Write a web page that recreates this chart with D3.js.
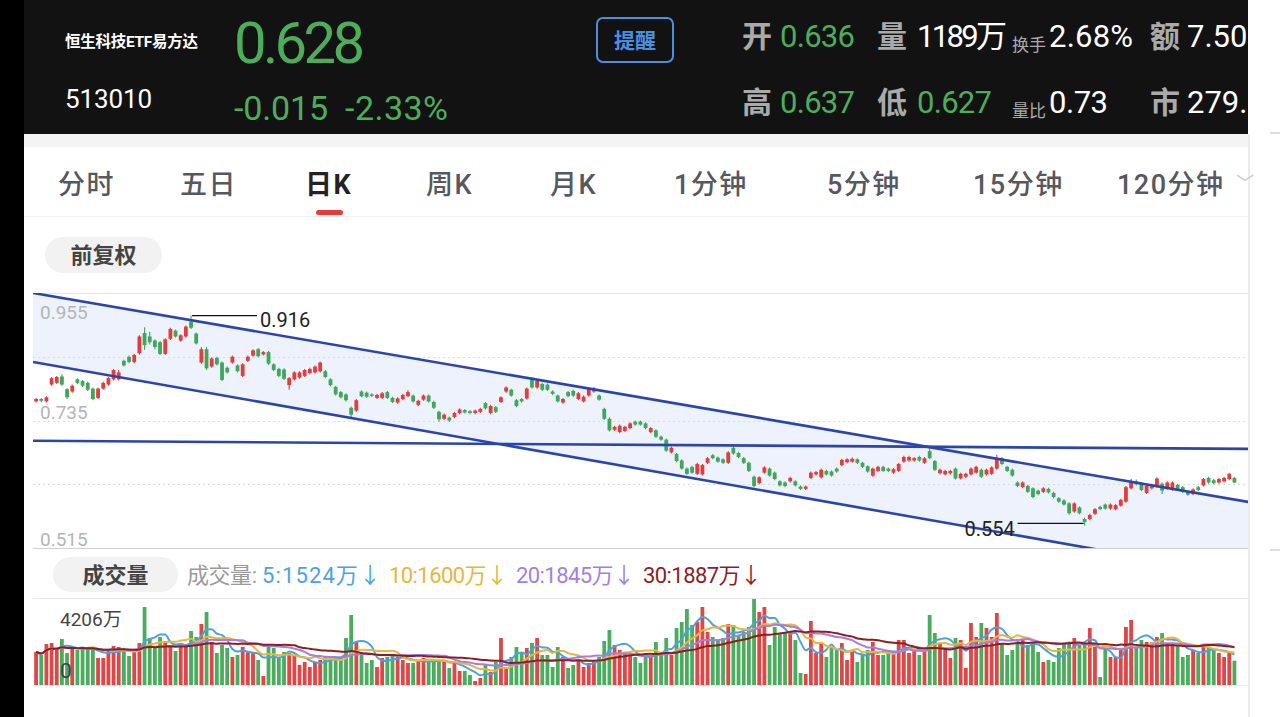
<!DOCTYPE html>
<html>
<head>
<meta charset="utf-8">
<script src="https://cdn.jsdelivr.net/npm/d3@7"></script>
<style>
  body { margin: 0; background: #fff; overflow: hidden; }
  svg { display: block; font-family: Roboto, "Noto Sans CJK SC", sans-serif; }
</style>
</head>
<body>
<div id="chart"></div>
<script>
// 恒生科技ETF易方达 daily K-line

const opens = [0.768,0.772,0.768,0.797,0.800,0.811,0.789,0.785,0.806,0.803,0.800,0.790,0.774,0.790,0.797,0.806,0.806,0.838,0.845,0.836,
  0.851,0.886,0.880,0.873,0.870,0.850,0.876,0.890,0.873,0.880,0.906,0.885,0.835,0.858,0.828,0.843,0.835,0.826,0.835,0.830,
  0.812,0.838,0.847,0.858,0.849,0.853,0.832,0.824,0.823,0.796,0.806,0.809,0.812,0.817,0.818,0.820,0.820,0.806,0.793,0.784,
  0.780,0.757,0.752,0.785,0.783,0.780,0.774,0.774,0.784,0.774,0.766,0.772,0.777,0.778,0.762,0.771,0.778,0.767,0.750,0.738,
  0.740,0.741,0.748,0.753,0.751,0.748,0.750,0.765,0.748,0.758,0.767,0.785,0.788,0.770,0.772,0.773,0.805,0.792,0.798,0.797,
  0.785,0.778,0.766,0.784,0.786,0.772,0.768,0.778,0.785,0.778,0.755,0.738,0.719,0.715,0.717,0.722,0.733,0.733,0.730,0.715,
  0.718,0.707,0.702,0.680,0.677,0.666,0.652,0.655,0.643,0.642,0.662,0.675,0.671,0.668,0.662,0.688,0.679,0.670,0.662,0.638,
  0.627,0.645,0.652,0.645,0.630,0.628,0.630,0.630,0.621,0.617,0.636,0.642,0.637,0.648,0.647,0.652,0.658,0.663,0.664,0.668,
  0.662,0.656,0.640,0.648,0.655,0.652,0.645,0.648,0.664,0.666,0.666,0.672,0.662,0.682,0.665,0.644,0.642,0.644,0.652,0.635,
  0.638,0.642,0.645,0.650,0.642,0.643,0.652,0.670,0.655,0.650,0.628,0.620,0.622,0.618,0.614,0.612,0.617,0.610,0.601,0.597,
  0.592,0.578,0.585,0.565,0.565,0.574,0.586,0.590,0.583,0.582,0.588,0.595,0.618,0.630,0.627,0.610,0.618,0.622,0.626,0.618,
  0.616,0.624,0.620,0.612,0.608,0.620,0.623,0.636,0.632,0.628,0.630,0.634,0.636];

const closes = [0.772,0.769,0.775,0.808,0.810,0.797,0.775,0.795,0.800,0.795,0.788,0.772,0.790,0.800,0.808,0.822,0.818,0.830,0.836,0.848,
  0.880,0.865,0.870,0.862,0.850,0.875,0.893,0.880,0.882,0.897,0.895,0.868,0.858,0.825,0.842,0.832,0.805,0.818,0.845,0.820,
  0.832,0.845,0.856,0.846,0.853,0.833,0.822,0.812,0.807,0.808,0.818,0.818,0.822,0.824,0.828,0.835,0.810,0.796,0.780,0.775,
  0.770,0.745,0.770,0.777,0.776,0.778,0.779,0.782,0.774,0.767,0.773,0.779,0.784,0.768,0.769,0.778,0.768,0.757,0.737,0.745,
  0.735,0.748,0.754,0.749,0.748,0.752,0.755,0.756,0.760,0.750,0.775,0.792,0.778,0.760,0.768,0.790,0.792,0.803,0.788,0.788,
  0.781,0.768,0.772,0.777,0.778,0.782,0.776,0.790,0.790,0.771,0.738,0.718,0.724,0.726,0.724,0.730,0.728,0.728,0.722,0.722,
  0.707,0.702,0.683,0.688,0.665,0.652,0.643,0.645,0.660,0.658,0.670,0.670,0.664,0.662,0.680,0.678,0.672,0.662,0.648,0.622,
  0.637,0.654,0.640,0.634,0.623,0.622,0.636,0.623,0.617,0.621,0.645,0.646,0.650,0.642,0.640,0.647,0.667,0.668,0.669,0.662,
  0.655,0.647,0.652,0.655,0.648,0.648,0.651,0.660,0.672,0.672,0.670,0.666,0.670,0.670,0.650,0.650,0.648,0.648,0.635,0.643,
  0.643,0.652,0.655,0.638,0.650,0.654,0.668,0.660,0.648,0.640,0.622,0.628,0.612,0.603,0.608,0.618,0.611,0.603,0.595,0.590,
  0.575,0.592,0.575,0.560,0.572,0.582,0.582,0.583,0.590,0.589,0.598,0.620,0.630,0.625,0.615,0.622,0.624,0.635,0.614,0.628,
  0.628,0.617,0.612,0.607,0.616,0.615,0.634,0.628,0.627,0.634,0.636,0.643,0.628];

const highs = [0.774,0.774,0.777,0.810,0.812,0.815,0.791,0.797,0.808,0.805,0.802,0.792,0.792,0.802,0.810,0.824,0.822,0.840,0.847,0.850,
  0.882,0.896,0.888,0.875,0.872,0.877,0.895,0.892,0.884,0.899,0.916,0.887,0.862,0.862,0.844,0.845,0.837,0.828,0.847,0.832,
  0.834,0.847,0.858,0.860,0.855,0.855,0.834,0.826,0.825,0.810,0.820,0.820,0.824,0.826,0.830,0.837,0.822,0.808,0.795,0.786,
  0.782,0.759,0.772,0.787,0.785,0.782,0.781,0.784,0.786,0.776,0.775,0.781,0.787,0.780,0.771,0.780,0.780,0.769,0.752,0.747,
  0.742,0.750,0.756,0.755,0.753,0.754,0.757,0.767,0.762,0.760,0.777,0.794,0.790,0.772,0.774,0.792,0.810,0.805,0.800,0.799,
  0.787,0.780,0.774,0.786,0.788,0.784,0.778,0.792,0.793,0.780,0.757,0.740,0.726,0.728,0.726,0.732,0.735,0.735,0.732,0.724,
  0.720,0.709,0.704,0.690,0.679,0.668,0.654,0.657,0.662,0.660,0.672,0.677,0.673,0.670,0.682,0.693,0.681,0.672,0.664,0.640,
  0.639,0.656,0.654,0.647,0.632,0.630,0.638,0.632,0.623,0.623,0.647,0.648,0.652,0.650,0.649,0.654,0.669,0.670,0.671,0.670,
  0.664,0.658,0.654,0.657,0.657,0.654,0.653,0.662,0.674,0.674,0.672,0.674,0.672,0.692,0.667,0.652,0.650,0.650,0.654,0.645,
  0.645,0.654,0.657,0.652,0.652,0.656,0.676,0.672,0.657,0.652,0.630,0.630,0.624,0.620,0.616,0.620,0.619,0.612,0.603,0.599,
  0.594,0.594,0.587,0.567,0.574,0.584,0.588,0.592,0.592,0.591,0.600,0.622,0.634,0.633,0.629,0.624,0.626,0.637,0.628,0.630,
  0.630,0.626,0.622,0.614,0.618,0.622,0.636,0.638,0.634,0.636,0.638,0.645,0.637];

const lows = [0.766,0.767,0.766,0.795,0.798,0.795,0.772,0.783,0.798,0.793,0.786,0.770,0.772,0.788,0.795,0.804,0.804,0.828,0.834,0.834,
  0.849,0.857,0.866,0.858,0.848,0.848,0.874,0.878,0.871,0.878,0.893,0.866,0.833,0.822,0.826,0.830,0.803,0.816,0.833,0.818,
  0.810,0.836,0.845,0.844,0.847,0.831,0.820,0.810,0.805,0.788,0.804,0.807,0.810,0.815,0.816,0.818,0.808,0.794,0.778,0.773,
  0.768,0.740,0.750,0.775,0.774,0.776,0.772,0.772,0.772,0.765,0.764,0.770,0.775,0.766,0.760,0.769,0.766,0.755,0.733,0.736,
  0.733,0.739,0.746,0.747,0.746,0.746,0.748,0.754,0.746,0.748,0.765,0.783,0.776,0.758,0.766,0.771,0.790,0.790,0.786,0.786,
  0.779,0.766,0.764,0.775,0.776,0.770,0.766,0.776,0.783,0.769,0.736,0.716,0.717,0.713,0.715,0.720,0.726,0.726,0.720,0.713,
  0.705,0.700,0.681,0.678,0.663,0.650,0.641,0.643,0.641,0.640,0.660,0.668,0.662,0.660,0.660,0.676,0.670,0.660,0.646,0.620,
  0.625,0.643,0.638,0.632,0.621,0.620,0.628,0.621,0.615,0.615,0.634,0.640,0.635,0.640,0.638,0.645,0.656,0.661,0.662,0.660,
  0.653,0.645,0.638,0.646,0.646,0.646,0.643,0.646,0.662,0.664,0.664,0.664,0.660,0.668,0.648,0.642,0.640,0.642,0.633,0.633,
  0.636,0.640,0.643,0.636,0.640,0.641,0.650,0.658,0.646,0.638,0.620,0.618,0.610,0.601,0.606,0.610,0.609,0.601,0.593,0.588,
  0.573,0.576,0.573,0.554,0.563,0.572,0.580,0.581,0.581,0.580,0.586,0.593,0.616,0.623,0.613,0.608,0.616,0.620,0.608,0.616,
  0.614,0.615,0.610,0.605,0.606,0.613,0.621,0.626,0.625,0.626,0.628,0.632,0.627];

// 成交量, 万
const volumes = [1614,1467,2005,2054,1711,2250,1565,1809,1711,1858,1711,1809,1320,1320,1711,1907,1858,1711,1418,1663,
  2054,3814,2298,1809,2347,2103,1956,1663,2005,2005,2640,2347,2983,3570,2103,1565,1956,1809,1369,1467,
  1858,1614,1565,1222,440,1858,1809,1369,1614,1565,1467,978,1125,880,1125,1222,1369,1369,1369,1369,
  2298,3423,2103,1565,1076,1222,880,1320,1369,1467,1369,1222,1076,1076,1125,1320,1125,1125,1222,1222,
  831,1076,685,685,489,196,342,978,636,1125,2298,880,1369,1858,1565,1809,2054,2298,1467,1467,
  880,1858,1369,831,978,1222,880,1076,1222,1369,2152,2690,1956,1711,1565,1565,1369,1076,1369,1467,
  2103,1467,2298,1467,2787,3081,3716,2934,3081,3814,2592,2347,2200,2298,2983,2934,2445,2592,2836,4206,
  3570,3814,1956,2836,2543,2592,2592,2200,587,538,3130,1565,2054,1369,1809,1711,2054,1222,1614,1125,
  1467,1711,2103,1467,1467,1565,1565,2200,2200,1565,1711,1467,1711,3423,2543,2054,1711,1320,2298,2200,
  831,3032,2347,3032,2787,2347,3521,2054,1467,1711,2054,2200,1956,2103,1614,1125,1222,1125,1809,2054,
  2103,2298,1956,2054,2787,1858,391,1809,1369,1369,1711,2836,3179,1858,2200,2103,2103,2347,2543,2054,
  2054,1956,1369,1467,1711,1565,1907,1809,1711,1565,1369,1614,1189];

const priceLabels = [0.955, 0.735, 0.515];
const gridPrices = [0.845, 0.735, 0.625];
const volumeTop = 4206;

// trend lines drawn on the chart: [dayIndex, price] end points
const upperLine = [[-0.6, 0.955], [235, 0.594]];
const lowerLine = [[-0.6, 0.836], [235, 0.466]];
const flatLine = [[-0.6, 0.700], [235, 0.686]];

const maPeriods = [5, 10, 20, 30];
const maColors = ["#4ba2e2", "#e8b63c", "#a47ee4", "#8e1e1e"];
const maLabels = ["5:1524万↓", "10:1600万↓", "20:1845万↓", "30:1887万↓"];

const tabs = ["分时", "五日", "日K", "周K", "月K", "1分钟", "5分钟", "15分钟", "120分钟"];
const tabX = [58, 180, 305, 426, 550, 674, 827, 973, 1117];

const width = 1280, height = 717;
const red = "#e23c3c", green = "#3fa75a";
const N = closes.length;

const svg = d3.select("#chart")
  .append("svg")
  .attr("width", width)
  .attr("height", height)
  .attr("viewBox", [0, 0, width, height]);

// page frame
svg.append("rect").attr("width", width).attr("height", height).attr("fill", "#fff");
svg.append("rect").attr("x", 0).attr("y", 0).attr("width", 24).attr("height", height).attr("fill", "#000");
svg.append("rect").attr("x", 24).attr("y", 0).attr("width", 1224).attr("height", 134).attr("fill", "#121212");
svg.append("rect").attr("x", 24).attr("y", 134).attr("width", 1224).attr("height", 13).attr("fill", "#f4f4f5");
svg.append("line").attr("x1", 1249).attr("x2", 1249).attr("y1", 134).attr("y2", height).attr("stroke", "#ececec").attr("stroke-width", 2);
[133, 550].forEach(v => svg.append("line").attr("x1", 1270).attr("x2", 1280).attr("y1", v).attr("y2", v).attr("stroke", "#bbb"));

// header
svg.append("clipPath").attr("id", "headclip").append("rect").attr("x", 24).attr("y", 0).attr("width", 1224).attr("height", 134);
const head = svg.append("g").attr("clip-path", "url(#headclip)");

head.append("text").attr("x", 65).attr("y", 47).attr("fill", "#fff")
  .attr("font-size", 15.5).attr("font-weight", 700).attr("textLength", 133).text("恒生科技ETF易方达");
head.append("text").attr("x", 65).attr("y", 108).attr("fill", "#fff")
  .attr("font-size", 26).attr("textLength", 87).text("513010");
head.append("text").attr("x", 234).attr("y", 63).attr("fill", "#4cae5a")
  .attr("font-size", 58).attr("textLength", 131).text("0.628");
head.append("text").attr("x", 234).attr("y", 120).attr("fill", "#4cae5a")
  .attr("font-size", 34).attr("textLength", 94).text("-0.015");
head.append("text").attr("x", 345).attr("y", 120).attr("fill", "#4cae5a")
  .attr("font-size", 34).attr("textLength", 103).text("-2.33%");

head.append("rect").attr("x", 597).attr("y", 18).attr("width", 76).attr("height", 44).attr("rx", 6)
  .attr("fill", "none").attr("stroke", "#4a8fe0").attr("stroke-width", 2);
head.append("text").attr("x", 635).attr("y", 48).attr("text-anchor", "middle").attr("fill", "#4a8fe0")
  .attr("font-size", 21).attr("font-weight", 700).text("提醒");

// [x, baseline, text, colour, size, weight, width]
const quote = [
  [742, 47, "开", "#aaa", 30, 700, 0], [780, 47, "0.636", "#4cae5a", 31, 400, 75],
  [877, 47, "量", "#aaa", 30, 700, 0], [917, 47, "1189万", "#fff", 31, 400, 90],
  [1012, 51, "换手", "#aaa", 17, 400, 0], [1049, 47, "2.68%", "#fff", 31, 400, 84],
  [1150, 47, "额", "#aaa", 30, 700, 0], [1187, 47, "7.50亿", "#fff", 31, 400, 0],
  [742, 113, "高", "#aaa", 30, 700, 0], [780, 113, "0.637", "#4cae5a", 31, 400, 75],
  [877, 113, "低", "#aaa", 30, 700, 0], [917, 113, "0.627", "#4cae5a", 31, 400, 75],
  [1012, 117, "量比", "#aaa", 17, 400, 0], [1049, 113, "0.73", "#fff", 31, 400, 59],
  [1150, 113, "市", "#aaa", 30, 700, 0], [1187, 113, "279.0", "#fff", 31, 400, 0]
];
head.selectAll("text.q")
  .data(quote)
  .join("text")
  .attr("class", "q")
  .attr("x", d => d[0]).attr("y", d => d[1])
  .attr("fill", d => d[3]).attr("font-size", d => d[4]).attr("font-weight", d => d[5])
  .attr("textLength", d => d[6] || null)
  .text(d => d[2]);

// tabs
svg.selectAll("text.tab")
  .data(tabs)
  .join("text")
  .attr("class", "tab")
  .attr("x", (d, i) => tabX[i])
  .attr("y", 194)
  .attr("font-size", 27)
  .attr("letter-spacing", 1.5)
  .attr("font-weight", d => d === "日K" ? 700 : 500)
  .attr("fill", d => d === "日K" ? "#222" : "#55585e")
  .text(d => d);
svg.append("rect").attr("x", 316).attr("y", 210).attr("width", 27).attr("height", 5).attr("rx", 2.5).attr("fill", red);
svg.append("text").attr("x", 1236).attr("y", 190).attr("fill", "#ccc").attr("font-size", 18).text("﹀");
svg.append("line").attr("x1", 24).attr("x2", 1248).attr("y1", 216.5).attr("y2", 216.5).attr("stroke", "#eee");

function pill(x0, y0, w, h, label) {
  svg.append("rect").attr("x", x0).attr("y", y0).attr("width", w).attr("height", h).attr("rx", h / 2).attr("fill", "#f2f2f3");
  svg.append("text").attr("x", x0 + w / 2).attr("y", y0 + h / 2 + 8).attr("text-anchor", "middle")
    .attr("font-size", 22).attr("font-weight", 700).attr("fill", "#444").text(label);
}
pill(45, 237, 117, 36, "前复权");

// price panel
const plotL = 33, plotR = 1248, plotT = 293, plotB = 548;
const x = d3.scaleLinear().domain([-0.5, N - 0.5]).range([33.5, 1237]);
const y = d3.scaleLinear().domain([0.515, 0.955]).range([plotB, plotT]);

svg.append("clipPath").attr("id", "priceclip")
  .append("rect").attr("x", plotL).attr("y", plotT).attr("width", plotR - plotL).attr("height", plotB - plotT);

const price = svg.append("g");
const channel = upperLine.concat(lowerLine.slice().reverse());
price.append("path")
  .attr("clip-path", "url(#priceclip)")
  .attr("d", d3.line().x(d => x(d[0])).y(d => y(d[1]))(channel) + "Z")
  .attr("fill", "#edf2fc");

price.append("line").attr("x1", plotL).attr("x2", plotR).attr("y1", plotT + 0.5).attr("y2", plotT + 0.5).attr("stroke", "#e6e6e6");
price.append("line").attr("x1", plotL).attr("x2", plotR).attr("y1", plotB + 0.5).attr("y2", plotB + 0.5).attr("stroke", "#cfcfcf");
price.selectAll("line.grid")
  .data(gridPrices)
  .join("line")
  .attr("class", "grid")
  .attr("x1", plotL).attr("x2", plotR)
  .attr("y1", d => Math.round(y(d)) + 0.5).attr("y2", d => Math.round(y(d)) + 0.5)
  .attr("stroke", "#dcdcdc").attr("stroke-dasharray", "2,3");

price.selectAll("text.pl")
  .data(priceLabels)
  .join("text")
  .attr("class", "pl")
  .attr("x", 40)
  .attr("y", (d, i) => i === 0 ? y(d) + 26 : y(d) - 2)
  .attr("font-size", 19)
  .attr("fill", "#b5b5b5")
  .text(d => d.toFixed(3));

const days = d3.range(N);
const isUp = i => closes[i] >= opens[i];
const bw = 3.8;

price.selectAll("line.wick")
  .data(days)
  .join("line")
  .attr("class", "wick")
  .attr("x1", i => x(i)).attr("x2", i => x(i))
  .attr("y1", i => y(highs[i])).attr("y2", i => y(lows[i]))
  .attr("stroke", i => isUp(i) ? red : green)
  .attr("stroke-width", 1.1);

price.selectAll("rect.body")
  .data(days)
  .join("rect")
  .attr("class", "body")
  .attr("x", i => x(i) - bw / 2)
  .attr("y", i => y(Math.max(opens[i], closes[i])))
  .attr("width", bw)
  .attr("height", i => Math.max(1.4, Math.abs(y(opens[i]) - y(closes[i]))))
  .attr("fill", i => isUp(i) ? red : green);

const trend = price.append("g").attr("clip-path", "url(#priceclip)");
[upperLine, lowerLine, flatLine].forEach(seg => {
  trend.append("path")
    .attr("d", d3.line().x(d => x(d[0])).y(d => y(d[1]))(seg))
    .attr("fill", "none")
    .attr("stroke", "#2b45ad")
    .attr("stroke-width", 2.6);
});

// max / min markers
const hi = d3.maxIndex(highs), lo = d3.minIndex(lows);
price.append("line").attr("x1", x(hi) + 1).attr("x2", x(hi) + 66)
  .attr("y1", y(highs[hi])).attr("y2", y(highs[hi])).attr("stroke", "#111").attr("stroke-width", 1.2);
price.append("text").attr("x", x(hi) + 69).attr("y", y(highs[hi]) + 11)
  .attr("font-size", 20).attr("fill", "#222").text(highs[hi].toFixed(3));
price.append("line").attr("x1", x(lo) - 1).attr("x2", x(lo) - 67)
  .attr("y1", y(lows[lo]) - 2).attr("y2", y(lows[lo]) - 2).attr("stroke", "#111").attr("stroke-width", 1.2);
price.append("text").attr("x", x(lo) - 70).attr("y", y(lows[lo]) + 11).attr("text-anchor", "end")
  .attr("font-size", 20).attr("fill", "#222").text(lows[lo].toFixed(3));

// volume panel
pill(53, 557, 125, 35, "成交量");
svg.append("text").attr("x", 187).attr("y", 583).attr("font-size", 22).attr("fill", "#9a9a9a")
  .attr("textLength", 70).text("成交量:");
const legendX = [262, 389, 516, 643];
svg.selectAll("text.ma")
  .data(maLabels)
  .join("text")
  .attr("class", "ma")
  .attr("x", (d, i) => legendX[i])
  .attr("y", 583)
  .attr("font-size", 22)
  .attr("textLength", 119)
  .attr("fill", (d, i) => maColors[i])
  .text(d => d);

const vTop = 599, vBottom = 685;
svg.append("line").attr("x1", plotL).attr("x2", plotR).attr("y1", 598.5).attr("y2", 598.5).attr("stroke", "#e6e6e6");
svg.append("line").attr("x1", plotL).attr("x2", plotR).attr("y1", vBottom + 0.5).attr("y2", vBottom + 0.5).attr("stroke", "#eee");

const yv = d3.scaleLinear().domain([0, volumeTop]).range([vBottom, vTop]);
const vol = svg.append("g");
vol.selectAll("rect")
  .data(days)
  .join("rect")
  .attr("x", i => x(i) - bw / 2)
  .attr("y", i => yv(volumes[i]))
  .attr("width", bw)
  .attr("height", i => vBottom - yv(volumes[i]))
  .attr("fill", i => isUp(i) ? "#e04646" : "#4aad5e");

maPeriods.forEach((p, k) => {
  const ma = days.map(i => d3.mean(volumes.slice(Math.max(0, i - p + 1), i + 1)));
  vol.append("path")
    .attr("d", d3.line().curve(d3.curveMonotoneX).x((d, i) => x(i)).y(d => yv(d))(ma))
    .attr("fill", "none")
    .attr("stroke", maColors[k])
    .attr("stroke-width", 2);
});

vol.append("text").attr("x", 60).attr("y", 626).attr("font-size", 19).attr("fill", "#444").text(volumeTop + "万");
vol.append("text").attr("x", 60).attr("y", 678).attr("font-size", 21).attr("fill", "#444").text("0");
</script>
</body>
</html>
